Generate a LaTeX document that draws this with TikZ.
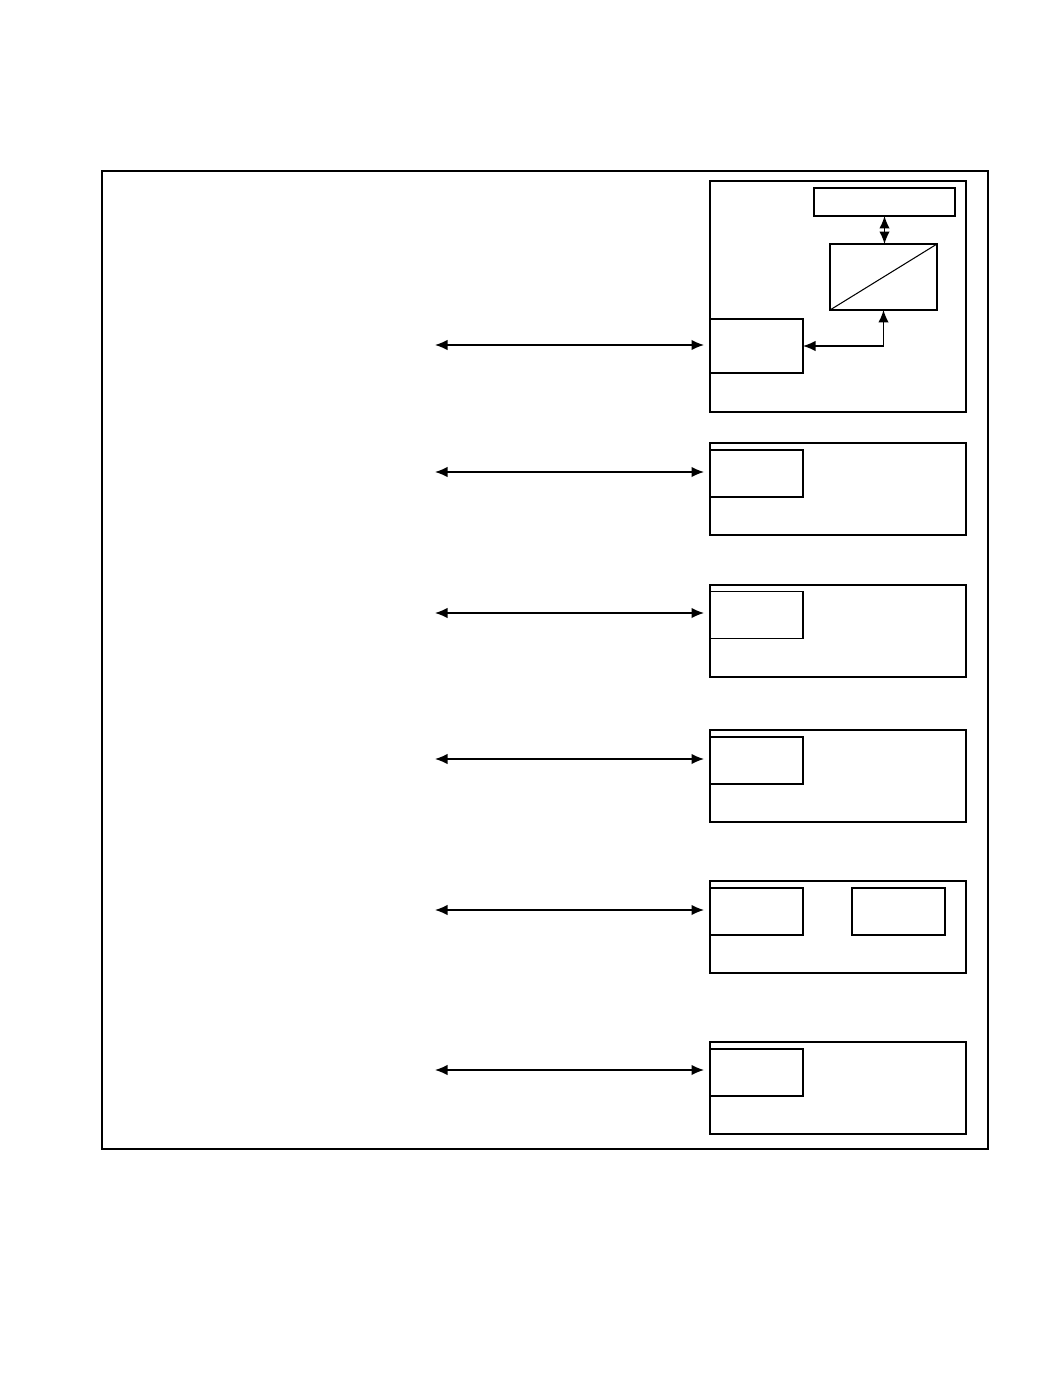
\documentclass[tikz,border=0pt]{standalone}
\usetikzlibrary{arrows.meta}
\begin{document}
\begin{tikzpicture}[x=0.02cm,y=-0.02cm,line width=0.8pt,
  box/.style={draw,inner sep=0pt,outer sep=0pt},
  link/.style={{Latex[length=2.5mm,width=2.1mm]}-{Latex[length=2.5mm,width=2.1mm]}}]
\useasboundingbox (0,0) rectangle (1037,1388);
\draw (102,171) rectangle (988,1149);
% first unit
\node[box,minimum width=5.12cm,minimum height=4.62cm] (unit1) at (838,296.5) {};
\node[box,minimum width=2.82cm,minimum height=0.56cm] (top1) at (884.5,202) {};
\node[box,minimum width=2.14cm,minimum height=1.32cm] (conv1) at (883.5,277) {};
\draw[line width=0.6pt] (conv1.south west) -- (conv1.north east);
\node[box,minimum width=1.86cm,minimum height=1.08cm] (port1) at (756.5,346) {};
\draw[link] (top1.south) -- (top1.south |- conv1.north);
\draw[link] (conv1.south) |- (port1.east);
% other units
\node[box,minimum width=5.12cm,minimum height=1.84cm] (unit2) at (838,489) {};
\node[box,minimum width=1.86cm,minimum height=0.94cm] (port2) at (756.5,473.5) {};
\node[box,minimum width=5.12cm,minimum height=1.84cm] (unit3) at (838,631) {};
\node[box,minimum width=1.86cm,minimum height=0.94cm] (port3) at (756.5,615) {};
\node[box,minimum width=5.12cm,minimum height=1.84cm] (unit4) at (838,776) {};
\node[box,minimum width=1.86cm,minimum height=0.94cm] (port4) at (756.5,760.5) {};
\node[box,minimum width=5.12cm,minimum height=1.84cm] (unit5) at (838,927) {};
\node[box,minimum width=1.86cm,minimum height=0.94cm] (port5) at (756.5,911.5) {};
\node[box,minimum width=1.86cm,minimum height=0.94cm] (aux5) at (898.5,911.5) {};
\node[box,minimum width=5.12cm,minimum height=1.84cm] (unit6) at (838,1088) {};
\node[box,minimum width=1.86cm,minimum height=0.94cm] (port6) at (756.5,1072.5) {};
% links from the left
\coordinate (bus1) at (435,345);
\coordinate (bus2) at (435,472);
\coordinate (bus3) at (435,613);
\coordinate (bus4) at (435,759);
\coordinate (bus5) at (435,910);
\coordinate (bus6) at (435,1070);
\draw[link] (bus1) -- ([xshift=-0.12cm]port1.west |- bus1);
\draw[link] (bus2) -- ([xshift=-0.12cm]port2.west |- bus2);
\draw[link] (bus3) -- ([xshift=-0.12cm]port3.west |- bus3);
\draw[link] (bus4) -- ([xshift=-0.12cm]port4.west |- bus4);
\draw[link] (bus5) -- ([xshift=-0.12cm]port5.west |- bus5);
\draw[link] (bus6) -- ([xshift=-0.12cm]port6.west |- bus6);
\end{tikzpicture}
\end{document}
